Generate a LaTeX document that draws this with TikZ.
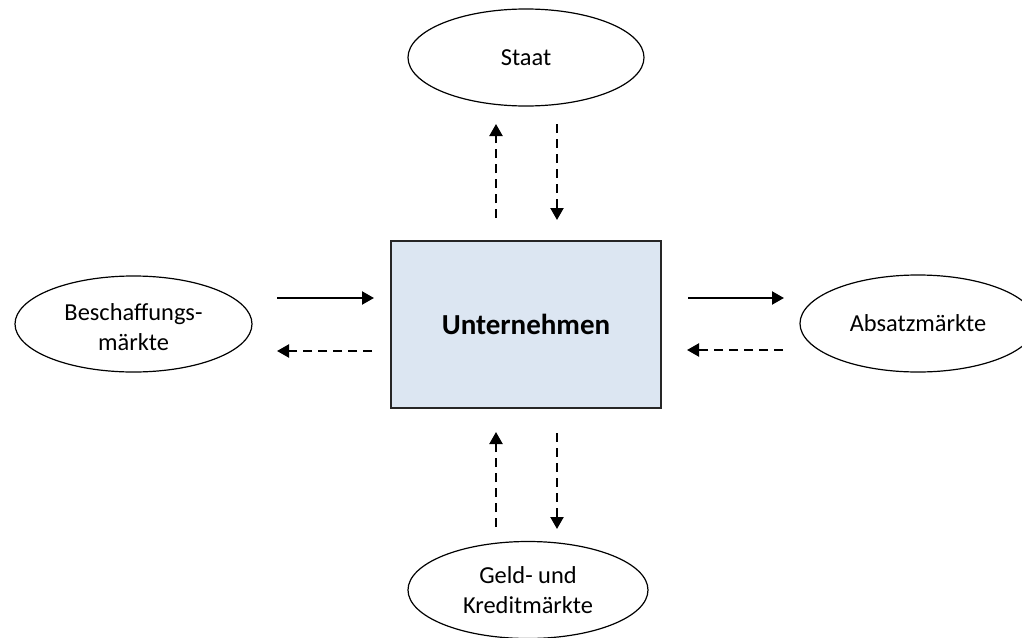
\documentclass[tikz,border=0pt]{standalone}
\usepackage{fontspec}
\setmainfont{Carlito}
\usetikzlibrary{shapes.geometric,arrows.meta}
\definecolor{boxfill}{HTML}{DCE6F2}
\begin{document}
\begin{tikzpicture}[x=0.5pt,y=-0.5pt,
  oval/.style={draw=black,line width=0.6pt,ellipse,inner sep=0pt,align=center,font=\fontsize{12.2}{15.2}\selectfont},
  lbl/.style={inner sep=0pt,align=center,font=\fontsize{12.2}{15}\selectfont},
  firm/.style={draw=black!85,line width=0.6pt,fill=boxfill,inner sep=0pt,minimum width=135pt,minimum height=83.5pt,font=\fontsize{14.5}{17}\selectfont\bfseries},
  flow/.style={line width=1.1pt,-{Triangle[length=6pt,width=6.5pt]}},
  dflow/.style={flow,dash pattern=on 4.5pt off 3pt}]
\useasboundingbox (0,0) rectangle (1022,637);
\node[oval,minimum width=118pt,minimum height=48.5pt] (staat) at (526,57.5) {Staat};
\node[oval,minimum width=118.5pt,minimum height=48pt] (besch) at (133.5,324) {};
\node[lbl] (beschtext) at (133.5,327) {Beschaffungs-\\märkte};
\node[oval,minimum width=118pt,minimum height=48.5pt] (absatz) at (918,323.5) {Absatzmärkte};
\node[oval,minimum width=120pt,minimum height=48.5pt] (geld) at (528,590) {Geld- und\\Kreditmärkte};
\node[firm] (firm) at (526,324.5) {Unternehmen};
% coordinates for arrow ends
\coordinate (su1) at (496,218); \coordinate (su2) at (496,124);
\coordinate (sd1) at (557,124); \coordinate (sd2) at (557,220);
\coordinate (bs1) at (277,298); \coordinate (bs2) at (374,298);
\coordinate (bd1) at (372,351); \coordinate (bd2) at (277,351);
\coordinate (as1) at (688,298); \coordinate (as2) at (784,298);
\coordinate (ad1) at (783,350); \coordinate (ad2) at (687,350);
\coordinate (gu1) at (496,527); \coordinate (gu2) at (496,432);
\coordinate (gd1) at (557,433); \coordinate (gd2) at (557,529);
\draw[dflow] (su1) -- (su2);
\draw[dflow] (sd1) -- (sd2);
\draw[flow] (bs1) -- (bs2);
\draw[dflow] (bd1) -- (bd2);
\draw[flow] (as1) -- (as2);
\draw[dflow] (ad1) -- (ad2);
\draw[dflow] (gu1) -- (gu2);
\draw[dflow] (gd1) -- (gd2);
\end{tikzpicture}
\end{document}
